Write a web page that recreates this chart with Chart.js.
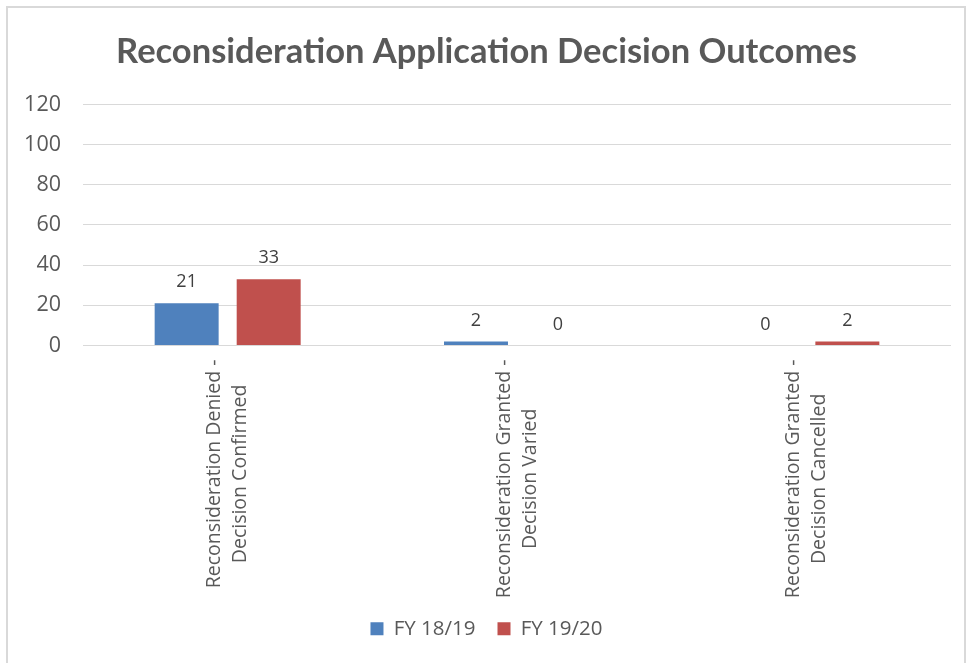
<!DOCTYPE html>
<html>
<head>
<meta charset="utf-8">
<script src="https://cdn.jsdelivr.net/npm/chart.js@4"></script>
<style>
    html, body { margin: 0; padding: 0; background: #fff; }
    #frame { position: absolute; left: 6px; top: 6px; width: 960px; height: 700px; border: 2px solid #d9d9d9; box-sizing: border-box; }
    #wrap { position: absolute; left: 0; top: 0; width: 969px; height: 663px; }
</style>
</head>
<body>
<div id="frame"></div>
<div id="wrap"><canvas id="outcomeChart"></canvas></div>
<script>
const categories = [
    ['Reconsideration Denied -', 'Decision Confirmed'],
    ['Reconsideration Granted -', 'Decision Varied'],
    ['Reconsideration Granted -', 'Decision Cancelled']
];
const fy1819 = [21, 2, 0];
const fy1920 = [33, 0, 2];
const seriesNames = ['FY 18/19', 'FY 19/20'];

const textColor = '#595959';
const labelFont = '"Open Sans", sans-serif';

// value labels above each bar
const barValues = {
    id: 'barValues',
    afterDatasetsDraw(chart) {
        const ctx = chart.ctx;
        ctx.save();
        ctx.font = '18px ' + labelFont;
        ctx.fillStyle = '#404040';
        ctx.textAlign = 'center';
        ctx.textBaseline = 'bottom';
        chart.data.datasets.forEach((ds, i) => {
            chart.getDatasetMeta(i).data.forEach((bar, j) => {
                ctx.fillText(String(ds.data[j]), bar.x, bar.y - 12);
            });
        });
        ctx.restore();
    }
};

// rotated category labels, lines centred on each other like the original
const categoryLabels = {
    id: 'categoryLabels',
    afterDraw(chart) {
        const ctx = chart.ctx;
        const xScale = chart.scales.x;
        const top = chart.chartArea.bottom + 14;
        ctx.save();
        ctx.font = '19.5px ' + labelFont;
        ctx.fillStyle = textColor;
        ctx.textAlign = 'center';
        ctx.textBaseline = 'middle';
        categories.forEach((lines, i) => {
            const x = xScale.getPixelForTick(i);
            const longest = Math.max(...lines.map(l => ctx.measureText(l).width));
            ctx.save();
            ctx.translate(x, top + longest / 2);
            ctx.rotate(-Math.PI / 2);
            const step = 26;
            lines.forEach((line, k) => {
                ctx.fillText(line, 0, (k - (lines.length - 1) / 2) * step);
            });
            ctx.restore();
        });
        ctx.restore();
    }
};

new Chart(document.getElementById('outcomeChart'), {
    type: 'bar',
    data: {
        labels: categories.map(c => c.join(' ')),
        datasets: [
            {
                label: seriesNames[0],
                data: fy1819,
                backgroundColor: '#4F81BD',
                categoryPercentage: 0.567,
                barPercentage: 0.78
            },
            {
                label: seriesNames[1],
                data: fy1920,
                backgroundColor: '#C0504D',
                categoryPercentage: 0.567,
                barPercentage: 0.78
            }
        ]
    },
    options: {
        responsive: true,
        maintainAspectRatio: false,
        animation: false,
        layout: {
            padding: { left: 22, right: 18, top: 0, bottom: 14 }
        },
        plugins: {
            title: {
                display: true,
                text: 'Reconsideration Application Decision Outcomes',
                color: textColor,
                font: { family: 'Lato, sans-serif', size: 34.5, weight: 'bold' },
                padding: { top: 31, bottom: 32 }
            },
            legend: {
                position: 'bottom',
                labels: {
                    color: textColor,
                    boxWidth: 13,
                    boxHeight: 13,
                    padding: 22,
                    font: { family: labelFont, size: 20.5 }
                }
            },
            tooltip: { enabled: false }
        },
        scales: {
            x: {
                grid: { display: false },
                border: { display: false },
                ticks: { display: false },
                afterFit: function(scale) { scale.height = 251; }
            },
            y: {
                min: 0,
                max: 120,
                ticks: {
                    stepSize: 20,
                    color: textColor,
                    padding: 22,
                    font: { family: labelFont, size: 21.5 }
                },
                grid: { color: '#d9d9d9', lineWidth: 1, drawTicks: false },
                border: { display: false },
                afterFit: function(scale) { scale.width = 61; }
            }
        }
    },
    plugins: [barValues, categoryLabels]
});
</script>
</body>
</html>
